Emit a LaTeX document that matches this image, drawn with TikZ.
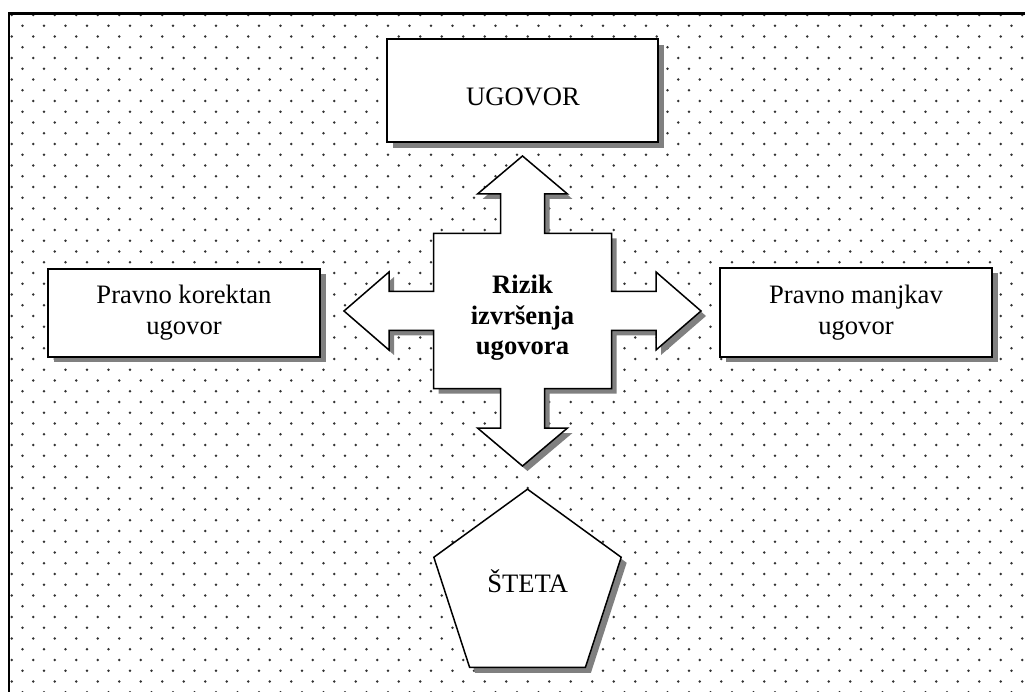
\documentclass[tikz,border=0pt]{standalone}
\usepackage{fontspec}
\setmainfont{Liberation Serif}
\usetikzlibrary{shapes.geometric,shadows}
\definecolor{shadowgray}{HTML}{808080}
\definecolor{dotc}{HTML}{333333}
\newcommand\crossoutline{(0,-155) -- (45,-117) -- (22,-117) -- (22,-77.5) -- (89,-77.5) -- (89,-19.5) -- (133.5,-19.5) -- (133.5,-39) -- (178.5,0) -- (133.5,39) -- (133.5,19.5) -- (89,19.5) -- (89,77.5) -- (22,77.5) -- (22,117) -- (45,117) -- (0,155) -- (-45,117) -- (-22,117) -- (-22,77.5) -- (-89,77.5) -- (-89,19.5) -- (-133.5,19.5) -- (-133.5,39) -- (-178.5,0) -- (-133.5,-39) -- (-133.5,-19.5) -- (-89,-19.5) -- (-89,-77.5) -- (-22,-77.5) -- (-22,-117) -- (-45,-117) -- cycle}
\begin{document}
\begin{tikzpicture}[x=1pt,y=-1pt,
  shadowed/.style={drop shadow={shadow xshift=5.5pt,shadow yshift=-5.5pt,fill=shadowgray,opacity=1}},
  box/.style={draw=black,line width=2pt,fill=white,inner sep=0pt,shadowed},
  penta/.style={regular polygon,regular polygon sides=5,draw=black,line width=1.5pt,fill=white,inner sep=0pt,shadowed},
  lbl/.style={font=\fontsize{26.6}{31}\selectfont,inner sep=0pt},
  blbl/.style={font=\fontsize{26.6}{30.5}\selectfont\bfseries,inner sep=0pt,align=center},
  crossline/.style={draw=black,line width=1.5pt,fill=white,line join=miter}]
\useasboundingbox (0,0) rectangle (1025,692);
\fill[white] (0,0) rectangle (1025,692);
% dotted background
\begin{scope}
\clip (9,13) rectangle (1025,692);
\path[fill=dotc]
  \foreach \k in {0,...,31}{ \foreach \j in {0,...,47}{ (11.7+21.5*\j,15+21.5*\k) circle (1.35) } }
  \foreach \k in {0,...,31}{ \foreach \j in {0,...,46}{ (22.45+21.5*\j,25.75+21.5*\k) circle (1.35) } };
\end{scope}
% frame
\draw[line width=2.5pt] (9,692) -- (9,13.3) -- (1025,13.3);
% boxes
\node[box,minimum width=271pt,minimum height=103pt] (ugovor) at (522.5,90.7) {};
\node[box,minimum width=272pt,minimum height=88pt] (korektan) at (184,313) {};
\node[box,minimum width=272pt,minimum height=89pt] (manjkav) at (856,312.5) {};
\node[penta,minimum size=197pt] (steta) at (527.5,587.7) {};
% cross arrow
\coordinate (rizik) at (522.5,311);
\begin{scope}[shift={(rizik)}]
  \fill[shadowgray,shift={(5,5)}] \crossoutline;
  \path[crossline] \crossoutline;
\end{scope}
% texts
\node[lbl,anchor=base] (t-ugovor) at (523,105.4) {UGOVOR};
\node[lbl,align=center] (t-korektan) at (184,312.5) {Pravno korektan\\ugovor};
\node[lbl,align=center] (t-manjkav) at (856,312.7) {Pravno manjkav\\ugovor};
\node[blbl] (t-rizik) at (522.5,318) {Rizik\\izvršenja\\ugovora};
\node[lbl,anchor=base] (t-steta) at (527.7,592.3) {ŠTETA};
\end{tikzpicture}
\end{document}
